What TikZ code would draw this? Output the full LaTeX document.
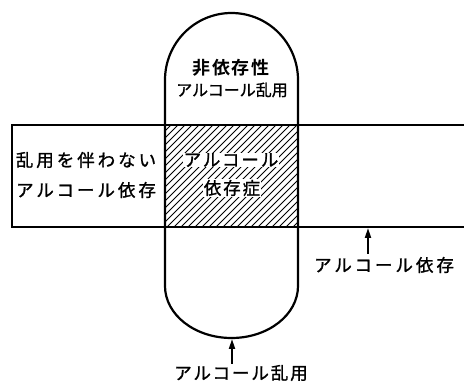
\documentclass[tikz,border=0pt]{standalone}
\usepackage{fontspec}
\usetikzlibrary{arrows.meta}
\newfontfamily\jp[FakeBold=1.2]{Noto Sans CJK JP}
\newfontfamily\jpa[LetterSpace=17,FakeBold=1.2]{Noto Sans CJK JP}
\newfontfamily\jpb[LetterSpace=11,FakeBold=1.2]{Noto Sans CJK JP}
\newfontfamily\jpc[LetterSpace=8]{Noto Sans CJK JP Bold}
\begin{document}
\begin{tikzpicture}[x=1pt,y=1pt,
  outline/.style={line width=2.2pt,line cap=round},
  hatch/.style={line width=0.9pt},
  lbl/.style={inner sep=0.5pt,font=\fontsize{17.5}{19}\selectfont},
  arr/.style={line width=1.8pt,-{Triangle[length=10pt,width=6pt]}}]
\useasboundingbox (0,0) rectangle (464,-385);
% hatching
\begin{scope}
  \clip (165,-125) rectangle (298,-227);
  \foreach \i in {0,7,...,245} {
    \draw[hatch] (165-110+\i,-227) -- ++(102,102);
  }
\end{scope}
% rectangle (open at right)
\draw[outline] (464,-125) -- (12,-125) -- (12,-227) -- (464,-227);
% capsule
\draw[outline] (165,-286) -- (165,-80) arc[start angle=180,end angle=0,x radius=66.5pt,y radius=67pt] -- (298,-286)
  arc[start angle=0,end angle=-180,x radius=66.5pt,y radius=52pt];
% texts
\node[lbl,font=\fontsize{18}{20}\selectfont] (nd1) at (231,-68) {\jpc 非依存性};
\node[lbl,font=\fontsize{16}{18}\selectfont] (nd2) at (232,-90) {\jp アルコール乱用};
\node[lbl] (l1) at (86,-160) {\jpa 乱用を伴わない};
\node[lbl] (l2) at (86,-190) {\jpa アルコール依存};
\node[lbl,fill=white] (c1) at (231,-160) {\jpb アルコール};
\node[lbl,fill=white] (c2) at (232,-188) {\jpb 依存症};
\node[lbl] (dep) at (384,-265) {\jpa アルコール依存};
\node[lbl] (abu) at (241,-373) {\jpb アルコール乱用};
% arrows
\coordinate (depTail) at (368,-254);
\coordinate (depTip) at (368,-228);
\coordinate (abuTail) at (232,-364);
\coordinate (abuTip) at (232,-339);
\draw[arr] (depTail) -- (depTip);
\draw[arr] (abuTail) -- (abuTip);
\end{tikzpicture}
\end{document}
